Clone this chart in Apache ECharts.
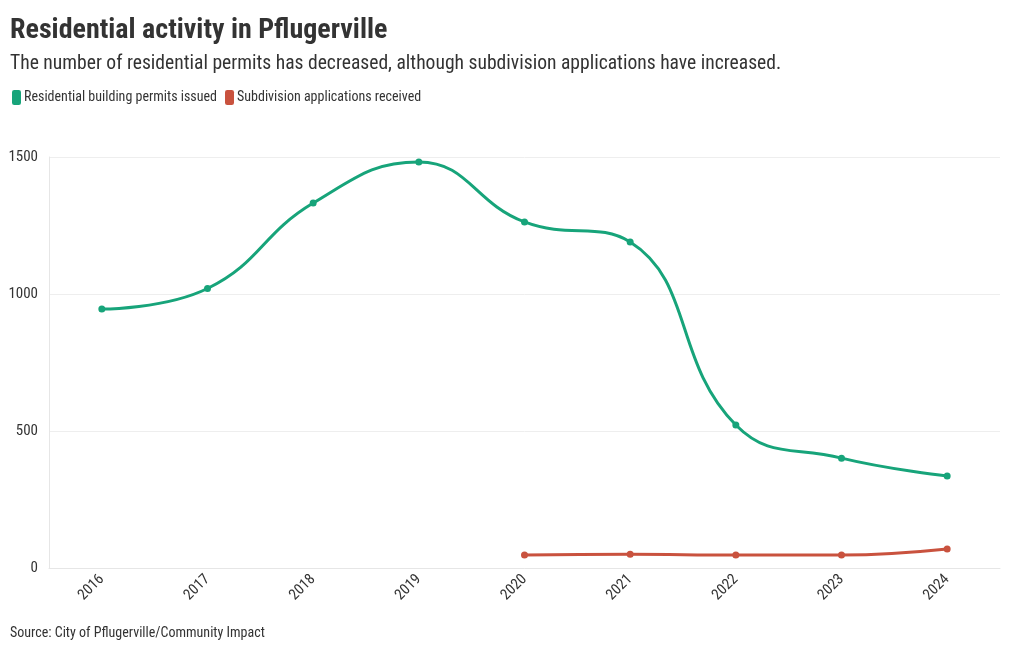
<!DOCTYPE html>
<html><head><meta charset="utf-8">
<script src="https://cdn.jsdelivr.net/npm/echarts@6/dist/echarts.min.js"></script>
<style>html,body{margin:0;padding:0;background:#fff}#c{width:1020px;height:650px}</style>
</head><body><div id="c"></div>
<script>
var FONT = '"Roboto Condensed","Liberation Sans Narrow","Roboto",sans-serif';
var years = ['2016','2017','2018','2019','2020','2021','2022','2023','2024'];
var permits = [945, 1020, 1332, 1482, 1263, 1190, 522, 401, 336];
var subdivisions = [null, null, null, null, 47, 50, 47, 47, 69];
var yTicks = [0, 500, 1000, 1500];

var chart = echarts.init(document.getElementById('c'));
chart.setOption({
  animation: false,
  textStyle: {fontFamily: FONT},
  title: [
    {text: 'Residential activity in Pflugerville', left: 10, top: 17, padding: 0,
     textStyle: {fontFamily: FONT, fontSize: 28, fontWeight: 'bold', color: '#333'}},
    {text: 'The number of residential permits has decreased, although subdivision applications have increased.', left: 10, top: 54, padding: 0,
     textStyle: {fontFamily: FONT, fontSize: 19.6, fontWeight: 'normal', color: '#333'}},
    {text: 'Source: City of Pflugerville/Community Impact', left: 10, top: 626, padding: 0,
     textStyle: {fontFamily: FONT, fontSize: 14, fontWeight: 'normal', color: '#333'}}
  ],
  legend: {
    left: 12, top: 90, padding: 0, itemWidth: 9, itemHeight: 15, itemGap: 8,
    icon: 'roundRect',
    textStyle: {fontFamily: FONT, fontSize: 14, color: '#333', padding: [0,0,0,-2]},
    data: ['Residential building permits issued', 'Subdivision applications received']
  },
  grid: {left: 49, right: 20, top: 157, bottom: 82, containLabel: false},
  xAxis: {
    type: 'category', data: years, boundaryGap: true,
    axisLine: {lineStyle: {color: '#e6e6e6'}},
    axisTick: {alignWithLabel: true, lineStyle: {color: '#e6e6e6'}, length: 6},
    axisLabel: {rotate: 45, fontFamily: FONT, fontSize: 15, color: '#333', margin: 9}
  },
  yAxis: {
    type: 'value', min: yTicks[0], max: yTicks[yTicks.length - 1], interval: yTicks[1] - yTicks[0],
    axisLine: {show: true, lineStyle: {color: '#e6e6e6'}},
    axisTick: {show: false},
    splitLine: {lineStyle: {color: '#eeeeee'}},
    axisLabel: {fontFamily: FONT, fontSize: 15, color: '#333', margin: 11, formatter: function (v) { return String(v); }}
  },
  series: [
    {name: 'Residential building permits issued', type: 'line', smooth: 0.45, data: permits,
     color: '#17a47a', symbol: 'circle', symbolSize: 7, lineStyle: {width: 3}},
    {name: 'Subdivision applications received', type: 'line', smooth: 0.45, data: subdivisions,
     color: '#c9523e', symbol: 'circle', symbolSize: 7, lineStyle: {width: 3}}
  ]
});
</script></body></html>
